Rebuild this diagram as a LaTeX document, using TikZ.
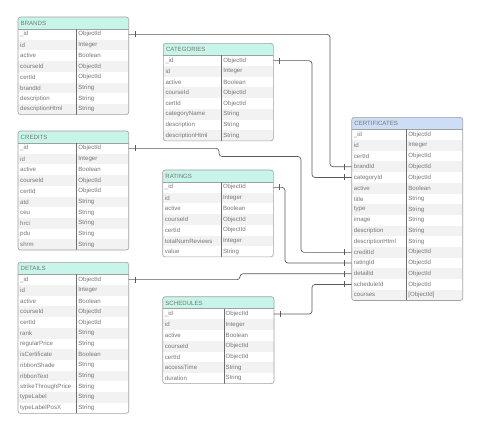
\documentclass[tikz,border=0pt]{standalone}
\usepackage{fontspec}
\setmainfont{Liberation Sans}
\definecolor{mint}{RGB}{200,245,234}
\definecolor{certblue}{RGB}{206,221,246}
\definecolor{rowgrey}{RGB}{242,242,242}
\definecolor{bordergrey}{RGB}{160,160,160}
\definecolor{divgrey}{RGB}{110,110,110}
\definecolor{txtgrey}{RGB}{118,118,118}
\definecolor{conngrey}{RGB}{90,90,90}
\tikzset{
  rowcell/.style={inner sep=0pt, outer sep=0pt, minimum height=10.7pt},
  fieldtxt/.style={inner sep=0pt, anchor=west, text=txtgrey, font=\fontsize{6.1}{7}\selectfont},
  hdrtxt/.style={inner sep=0pt, anchor=west, text=txtgrey, font=\fontsize{6.1}{7}\selectfont},
  border/.style={draw=bordergrey, line width=0.6pt},
  divline/.style={draw=divgrey, line width=0.6pt},
  conn/.style={draw=conngrey, line width=0.65pt, rounded corners=3pt},
  tickmark/.style={draw=conngrey, line width=0.65pt}
}
% #1 name, #2 x, #3 y top, #4 width, #5 divider offset, #6 header colour, #7 title, #8 rows, #9 field/type list
\newcommand{\ertable}[9]{%
  \begin{scope}
    \path[clip, rounded corners=2.5pt] (#2,#3) rectangle ({#2+#4},{#3+12+#8*10.7});
    \fill[#6] (#2,#3) rectangle ({#2+#4},{#3+12});
    \foreach[count=\i] \fld/\typ in {#9} {
      \pgfmathsetmacro\yc{#3+12+(\i-0.5)*10.7}
      \ifodd\i \def\rf{white}\else\def\rf{rowgrey}\fi
      \node[rowcell, fill=\rf, minimum width=#4pt] (#1-\i) at ({#2+#4/2},\yc) {};
      \node[fieldtxt] at ({#2+2},\yc) {\fld};
      \node[fieldtxt] at ({#2+#5+1.5},\yc) {\typ};
    }
  \end{scope}
  \node[hdrtxt] (#1) at ({#2+2.5},{#3+6.2}) {#7};
  \draw[border] (#2,{#3+12}) -- ({#2+#4},{#3+12});
  \draw[divline] ({#2+#5},{#3+12}) -- ({#2+#5},{#3+12+#8*10.7});
  \draw[border, rounded corners=2.5pt] (#2,#3) rectangle ({#2+#4},{#3+12+#8*10.7});
}
\newcommand{\tickat}[2]{\draw[tickmark] ([xshift=#2pt]#1) +(0,-3) -- +(0,3);}
\begin{document}
\begin{tikzpicture}[x=1pt,y=-1pt]
\useasboundingbox[fill=white] (0,0) rectangle (480,431);

\ertable{brands}{18}{17}{110.7}{58.7}{mint}{BRANDS}{8}{%
  \_id/ObjectId, id/Integer, active/Boolean, courseId/ObjectId, certId/ObjectId,
  brandId/String, description/String, descriptionHtml/String}

\ertable{categories}{163.3}{43.3}{110}{58.4}{mint}{CATEGORIES}{8}{%
  \_id/ObjectId, id/Integer, active/Boolean, courseId/ObjectId, certId/ObjectId,
  categoryName/String, description/String, descriptionHtml/String}

\ertable{credits}{18}{131}{110.7}{58.7}{mint}{CREDITS}{10}{%
  \_id/ObjectId, id/Integer, active/Boolean, courseId/ObjectId, certId/ObjectId,
  atd/String, ceu/String, hrci/String, pdu/String, shrm/String}

\ertable{ratings}{162.7}{170}{110.6}{58.6}{mint}{RATINGS}{7}{%
  \_id/ObjectId, id/Integer, active/Boolean, courseId/ObjectId, certId/ObjectId,
  totalNumReviews/Integer, value/String}

\ertable{details}{18}{262.3}{110.7}{58.7}{mint}{DETAILS}{13}{%
  \_id/ObjectId, id/Integer, active/Boolean, courseId/ObjectId, certId/ObjectId,
  rank/String, regularPrice/String, isCertificate/Boolean, ribbonShade/String,
  ribbonText/String, strikeThroughPrice/String, typeLabel/String, typeLabelPosX/String}

\ertable{schedules}{162.7}{296.7}{111.3}{61.3}{mint}{SCHEDULES}{7}{%
  \_id/ObjectId, id/Integer, active/Boolean, courseId/ObjectId, certId/ObjectId,
  accessTime/String, duration/String}

\ertable{certs}{351.7}{117.3}{111}{55}{certblue}{CERTIFICATES}{16}{%
  \_id/ObjectId, id/Integer, certId/ObjectId, brandId/ObjectId, categoryId/ObjectId,
  active/Boolean, title/String, type/String, image/String, description/String,
  descriptionHtml/String, creditId/ObjectId, ratingId/ObjectId, detailId/ObjectId,
  scheduleId/ObjectId, courses/{[ObjectId]}}

% connector bend points
\coordinate (bx) at (330,0);
\coordinate (cx) at (312,0);
\coordinate (crj) at (219,156.5);
\coordinate (crx) at (301,0);
\coordinate (rx) at (285,0);
\coordinate (dj) at (240,0);
\coordinate (sx) at (312,0);

\draw[conn] (brands-1.east) -| (bx |- certs-4.west) -- (certs-4.west);
\draw[conn] (categories-1.east) -| (cx |- certs-5.west) -- (certs-5.west);
\draw[conn] (credits-1.east) -| (crj) -| (crx |- certs-12.west) -- (certs-12.west);
\draw[conn] (ratings-1.east) -| (rx |- certs-13.west) -- (certs-13.west);
\draw[conn] (details-1.east) -| (dj |- certs-14.west) -- (certs-14.west);
\draw[conn] (schedules-1.east) -| (sx |- certs-15.west) -- (certs-15.west);

\tickat{brands-1.east}{6.5}
\tickat{categories-1.east}{6.5}
\tickat{credits-1.east}{6.5}
\tickat{ratings-1.east}{6.5}
\tickat{details-1.east}{6.5}
\tickat{schedules-1.east}{6.5}
\tickat{certs-4.west}{-7}
\tickat{certs-5.west}{-7}
\tickat{certs-12.west}{-7}
\tickat{certs-13.west}{-7}
\tickat{certs-14.west}{-7}
\tickat{certs-15.west}{-7}
\end{tikzpicture}
\end{document}
